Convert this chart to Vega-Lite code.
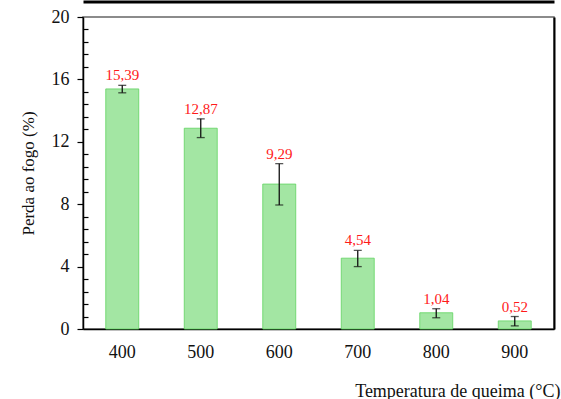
{
  "$schema": "https://vega.github.io/schema/vega-lite/v6.json",
  "autosize": "none",
  "width": 471,
  "height": 312,
  "padding": {"left": 83, "top": 17, "right": 7, "bottom": 70},
  "background": "white",
  "config": {
    "font": "Liberation Serif",
    "view": {"stroke": "#666", "strokeWidth": 1.5},
    "axis": {"labelFont": "Liberation Serif", "titleFont": "Liberation Serif", "labelColor": "#111", "titleColor": "#111", "domainColor": "black", "tickColor": "black", "grid": false}
  },
  "data": {"values": [
    {"temp": "400", "perda": 15.39, "lo": 15.14, "hi": 15.62, "label": "15,39"},
    {"temp": "500", "perda": 12.87, "lo": 12.27, "hi": 13.47, "label": "12,87"},
    {"temp": "600", "perda": 9.29, "lo": 7.95, "hi": 10.6, "label": "9,29"},
    {"temp": "700", "perda": 4.54, "lo": 4.0, "hi": 5.04, "label": "4,54"},
    {"temp": "800", "perda": 1.04, "lo": 0.72, "hi": 1.3, "label": "1,04"},
    {"temp": "900", "perda": 0.52, "lo": 0.2, "hi": 0.8, "label": "0,52"}
  ]},
  "resolve": {"axis": {"x": "independent", "y": "independent"}},
  "layer": [
    {
      "mark": {"type": "bar", "fill": "#a3e6a3", "stroke": "#5fd35f", "strokeWidth": 0.8},
      "encoding": {
        "x": {"field": "temp", "type": "nominal", "sort": null,
              "scale": {"paddingInner": 0.58, "paddingOuter": 0.29},
              "axis": {"orient": "bottom", "title": "Temperatura de queima (°C)", "labelAngle": 0, "labelFont": "Liberation Serif", "labelFontSize": 18, "labelPadding": 14, "ticks": false, "domain": true, "domainWidth": 1.5,
                       "titleFont": "Liberation Serif", "titleFontSize": 18, "titleAnchor": "end", "titleAlign": "right", "titleBaseline": "alphabetic", "titleX": 477, "titleY": 67, "titleFontWeight": "normal"}},
        "y": {"field": "perda", "type": "quantitative",
              "scale": {"domain": [0, 20], "nice": false},
              "axis": {"orient": "left", "title": "Perda ao fogo (%)",
                       "values": [0, 0.8, 1.6, 2.4, 3.2, 4, 4.8, 5.6, 6.4, 7.2, 8, 8.8, 9.6, 10.4, 11.2, 12, 12.8, 13.6, 14.4, 15.2, 16, 16.8, 17.6, 18.4, 19.2, 20],
                       "labelExpr": "abs(datum.value % 4) < 0.01 ? datum.label : ''",
                       "labelFont": "Liberation Serif", "labelFontSize": 18,
                       "tickSize": {"condition": {"test": "abs(datum.value % 4) < 0.01", "value": 6}, "value": -5},
                       "labelPadding": 8, "domainWidth": 1.5, "tickWidth": 1.2,
                       "titleFont": "Liberation Serif", "titleFontSize": 17, "titleFontWeight": "normal", "titlePadding": 14}}
      }
    },
    {
      "mark": {"type": "rule", "color": "#111", "strokeWidth": 1.3},
      "encoding": {
        "x": {"field": "temp", "type": "nominal", "sort": null, "axis": null},
        "y": {"field": "lo", "type": "quantitative", "axis": null},
        "y2": {"field": "hi"}
      }
    },
    {
      "mark": {"type": "tick", "color": "#111", "size": 8, "thickness": 1.3, "orient": "horizontal"},
      "encoding": {
        "x": {"field": "temp", "type": "nominal", "sort": null, "axis": null},
        "y": {"field": "lo", "type": "quantitative", "axis": null}
      }
    },
    {
      "mark": {"type": "tick", "color": "#111", "size": 8, "thickness": 1.3, "orient": "horizontal"},
      "encoding": {
        "x": {"field": "temp", "type": "nominal", "sort": null,
              "axis": {"orient": "top", "title": null, "labels": false, "ticks": false, "domain": true, "domainWidth": 3, "domainColor": "black", "offset": 15.5}},
        "y": {"field": "hi", "type": "quantitative",
              "axis": {"orient": "right", "title": null, "labels": false, "ticks": false, "domain": true, "domainWidth": 2, "domainColor": "black"}}
      }
    },
    {
      "mark": {"type": "text", "color": "#ff1a1a", "fontSize": 15, "baseline": "alphabetic", "dy": -5, "font": "Liberation Serif"},
      "encoding": {
        "x": {"field": "temp", "type": "nominal", "sort": null, "axis": null},
        "y": {"field": "hi", "type": "quantitative", "axis": null},
        "text": {"field": "label"}
      }
    }
  ]
}
